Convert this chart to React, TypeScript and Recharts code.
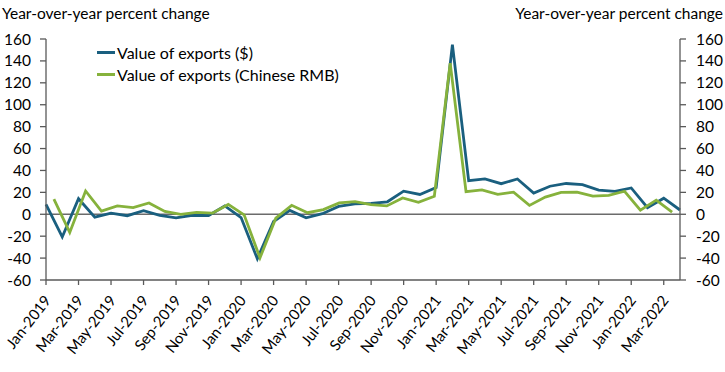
import React from 'react';
import { LineChart, Line, XAxis, YAxis, ReferenceLine, Legend } from 'recharts';

const months = [
  'Jan-2019', 'Feb-2019', 'Mar-2019', 'Apr-2019', 'May-2019', 'Jun-2019', 'Jul-2019', 'Aug-2019', 'Sep-2019', 'Oct-2019', 'Nov-2019', 'Dec-2019',
  'Jan-2020', 'Feb-2020', 'Mar-2020', 'Apr-2020', 'May-2020', 'Jun-2020', 'Jul-2020', 'Aug-2020', 'Sep-2020', 'Oct-2020', 'Nov-2020', 'Dec-2020',
  'Jan-2021', 'Feb-2021', 'Mar-2021', 'Apr-2021', 'May-2021', 'Jun-2021', 'Jul-2021', 'Aug-2021', 'Sep-2021', 'Oct-2021', 'Nov-2021', 'Dec-2021',
  'Jan-2022', 'Feb-2022', 'Mar-2022', 'Apr-2022',
];

// value of exports in US dollars, yoy %
const exportsUsd = [
  9.1, -20.7, 14.2, -2.7, 1.1, -1.3, 3.3, -1.0, -3.2, -0.9, -1.1, 7.6,
  -3.0, -40.6, -6.6, 3.5, -3.3, 0.5, 7.2, 9.5, 9.9, 11.4, 21.1, 18.1,
  24.5, 154.9, 30.6, 32.3, 27.9, 32.2, 19.3, 25.6, 28.1, 27.1, 22.0, 20.9,
  24.0, 6.0, 14.7, 3.9,
];

// value of exports in Chinese RMB, yoy %
const exportsRmb = [
  13.9, -16.6, 21.3, 2.9, 7.7, 6.1, 10.3, 2.6, 0.0, 1.7, 1.0, 9.0,
  -0.5, -39.8, -3.5, 8.2, 1.4, 4.3, 10.4, 11.6, 8.8, 7.6, 14.9, 10.9,
  16.5, 138.0, 20.7, 22.2, 18.1, 20.2, 8.1, 15.7, 19.9, 20.3, 16.6, 17.3,
  21.0, 3.8, 12.9, 1.9,
];

const yTicks = [-60, -40, -20, 0, 20, 40, 60, 80, 100, 120, 140, 160];

const data = months.map((m, i) => ({ month: m, usd: exportsUsd[i], rmb: exportsRmb[i] }));

const FONT = 'Lato, "Noto Sans", sans-serif';
const BLUE = '#1a5f7f';
const GREEN = '#86b23c';
const AXIS = '#595959';

const XTick = (props: any) => {
  const { x, y, payload } = props;
  const tx = x + 1;
  return (
    <text
      x={tx}
      y={y}
      transform={`rotate(-52, ${tx}, ${y})`}
      textAnchor="end"
      dominantBaseline="central"
      fontFamily={FONT}
      fontSize={15}
      fill="#000"
    >
      {payload.value}
    </text>
  );
};

const LegendContent = (props: any) => {
  const { payload } = props;
  return (
    <div style={{ fontFamily: FONT, fontSize: 16, color: '#000' }}>
      {(payload || []).map((p: any) => (
        <div key={p.value} style={{ display: 'flex', alignItems: 'center', height: 22 }}>
          <span style={{ display: 'inline-block', width: 18, height: 3, background: p.color, marginRight: 2 }} />
          <span>{p.value}</span>
        </div>
      ))}
    </div>
  );
};

const titleStyle: React.CSSProperties = {
  position: 'absolute',
  top: 4,
  fontFamily: FONT,
  fontSize: 15.5,
  color: '#000',
  whiteSpace: 'nowrap',
};

const App = () => {
  return (
    <div style={{ position: 'absolute', left: 0, top: 0, width: 725, height: 372, background: '#fff' }}>
      <div style={{ ...titleStyle, left: 2 }}>Year-over-year percent change</div>
      <div style={{ ...titleStyle, right: 2 }}>Year-over-year percent change</div>
      <LineChart width={725} height={372} data={data} margin={{ top: 39, right: 0, bottom: 0, left: 0 }}>
        <XAxis
          dataKey="month"
          xAxisId="usd"
          interval={1}
          height={92}
          tick={<XTick />}
          tickSize={5}
          tickMargin={12}
          axisLine={{ stroke: AXIS, strokeWidth: 1.3 }}
          tickLine={{ stroke: AXIS, strokeWidth: 1.3 }}
        />
        <XAxis dataKey="month" xAxisId="rmb" hide height={0} padding={{ left: 7.9, right: 7.9 }} />
        <YAxis
          yAxisId="left"
          type="number"
          domain={[-60, 160]}
          ticks={yTicks}
          tickCount={12}
          interval={0}
          allowDataOverflow
          width={46}
          tickSize={6}
          tickMargin={9}
          tick={{ fontFamily: FONT, fontSize: 15.5, fill: '#000' }}
          axisLine={{ stroke: AXIS, strokeWidth: 1.3 }}
          tickLine={{ stroke: AXIS, strokeWidth: 1.3 }}
        />
        <YAxis
          yAxisId="right"
          type="number"
          orientation="right"
          domain={[-60, 160]}
          ticks={yTicks}
          tickCount={12}
          interval={0}
          allowDataOverflow
          width={45}
          tickSize={6}
          tickMargin={10}
          tick={{ fontFamily: FONT, fontSize: 15.5, fill: '#000', textAnchor: 'start' }}
          axisLine={{ stroke: AXIS, strokeWidth: 1.3 }}
          tickLine={{ stroke: AXIS, strokeWidth: 1.3 }}
        />
        <ReferenceLine y={0} yAxisId="left" xAxisId="usd" stroke="#6b6b6b" strokeWidth={1.5} />
        <Line
          type="linear"
          dataKey="usd"
          name="Value of exports ($)"
          xAxisId="usd"
          yAxisId="left"
          stroke={BLUE}
          strokeWidth={2.8}
          dot={false}
          isAnimationActive={false}
        />
        <Line
          type="linear"
          dataKey="rmb"
          name="Value of exports (Chinese RMB)"
          xAxisId="rmb"
          yAxisId="right"
          stroke={GREEN}
          strokeWidth={2.8}
          dot={false}
          isAnimationActive={false}
        />
        <Legend
          layout="vertical"
          align="center"
          verticalAlign="middle"
          content={<LegendContent />}
          wrapperStyle={{ left: 97, top: 41, width: 300, height: 44 }}
        />
      </LineChart>
    </div>
  );
};

export default App;
